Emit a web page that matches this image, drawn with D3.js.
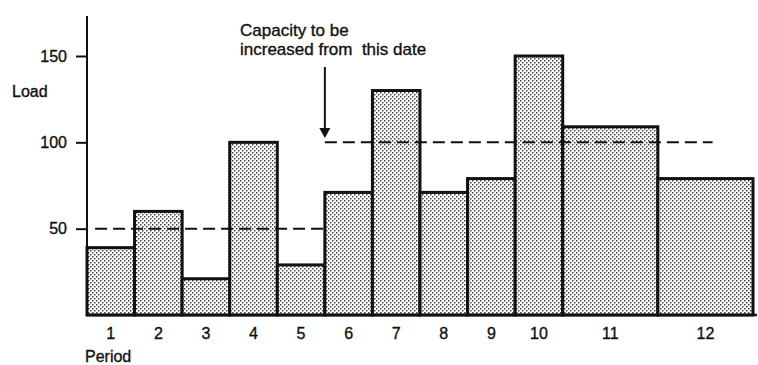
<!DOCTYPE html>
<html>
<head>
<meta charset="utf-8">
<script src="https://cdn.jsdelivr.net/npm/d3@7"></script>
<style>
  html, body { margin: 0; padding: 0; background: #fff; }
  svg { display: block; font-family: "Liberation Sans", Arial, Helvetica, sans-serif; }
  text { stroke: #111; stroke-width: 0.35px; }
</style>
</head>
<body>
<svg id="chart" width="758" height="365"></svg>
<script>
// Load per period; periods 11 and 12 cover two time units each
const periods = ["1", "2", "3", "4", "5", "6", "7", "8", "9", "10", "11", "12"];
const load = [39, 60, 21, 100, 29, 71, 130, 71, 79, 150, 109, 79];
const span = [1, 1, 1, 1, 1, 1, 1, 1, 1, 1, 2, 2];
const yTicks = [50, 100, 150];

// Capacity levels (in time units along the period axis)
const capLevel = [50, 100];
const capFrom = [0.17, 5];
const capTo = [5, 13.15];
const capChangeAt = 5;

const svg = d3.select("#chart");
const ink = "#111";

const totalUnits = d3.sum(span);
const x = d3.scaleLinear().domain([0, totalUnits]).range([87, 753]);
const y = d3.scaleLinear().domain([0, 150]).range([315, 56]);

// cumulative start of each period
const starts = [];
span.reduce((acc, s, i) => { starts[i] = acc; return acc + s; }, 0);

// stipple fill for the bars
const defs = svg.append("defs");
const pat = defs.append("pattern")
  .attr("id", "stipple")
  .attr("width", 4).attr("height", 4)
  .attr("patternUnits", "userSpaceOnUse");
pat.append("rect").attr("width", 4).attr("height", 4).attr("fill", "#fff");
pat.append("rect").attr("x", 0).attr("y", 0).attr("width", 1.5).attr("height", 1.5).attr("fill", "#444");
pat.append("rect").attr("x", 2).attr("y", 2).attr("width", 1.5).attr("height", 1.5).attr("fill", "#444");

// bars
svg.append("g")
  .selectAll("rect")
  .data(load)
  .join("rect")
  .attr("x", (d, i) => x(starts[i]))
  .attr("width", (d, i) => x(starts[i] + span[i]) - x(starts[i]))
  .attr("y", d => y(d))
  .attr("height", d => y(0) - y(d))
  .attr("fill", "url(#stipple)")
  .attr("stroke", ink)
  .attr("stroke-width", 3);

// capacity lines
svg.append("g")
  .selectAll("line")
  .data(capLevel)
  .join("line")
  .attr("x1", (d, i) => x(capFrom[i]))
  .attr("x2", (d, i) => x(capTo[i]))
  .attr("y1", d => y(d))
  .attr("y2", d => y(d))
  .attr("stroke", ink)
  .attr("stroke-width", 2)
  .attr("stroke-dasharray", "12,6");

// y axis
const yAxis = d3.axisLeft(y)
  .tickValues(yTicks)
  .tickSize(11)
  .tickPadding(9);
const gy = svg.append("g")
  .attr("transform", `translate(${x(0)},0)`)
  .call(yAxis);
gy.select(".domain").remove();
gy.selectAll(".tick line").attr("stroke", ink).attr("stroke-width", 2);
gy.selectAll(".tick text")
  .attr("fill", ink)
  .style("font-size", "16px")
  .style("font-family", "'Liberation Sans', Arial, sans-serif");

svg.append("line")
  .attr("x1", x(0)).attr("x2", x(0))
  .attr("y1", y(0) + 1).attr("y2", 16)
  .attr("stroke", ink).attr("stroke-width", 2);

// x axis baseline
svg.append("line")
  .attr("x1", x(0) - 1).attr("x2", 757)
  .attr("y1", y(0)).attr("y2", y(0))
  .attr("stroke", ink).attr("stroke-width", 2.5);

// period labels
svg.append("g")
  .selectAll("text")
  .data(periods)
  .join("text")
  .attr("x", (d, i) => x(starts[i] + span[i] / 2))
  .attr("y", 339)
  .attr("text-anchor", "middle")
  .attr("fill", ink)
  .style("font-size", "16px")
  .text(d => d);

svg.append("text")
  .attr("x", 85).attr("y", 362)
  .attr("fill", ink)
  .style("font-size", "16px")
  .text("Period");

svg.append("text")
  .attr("x", 12).attr("y", 97)
  .attr("fill", ink)
  .style("font-size", "16px")
  .text("Load");

// annotation with arrow
const ax = x(capChangeAt);
svg.append("line")
  .attr("x1", ax).attr("x2", ax)
  .attr("y1", 67).attr("y2", 129)
  .attr("stroke", ink).attr("stroke-width", 2);
svg.append("path")
  .attr("d", `M${ax - 5.5},128 L${ax + 5.5},128 L${ax},138 Z`)
  .attr("fill", ink);

const note = svg.append("text")
  .attr("fill", ink)
  .style("font-size", "17px");
note.append("tspan").attr("x", 240).attr("y", 36).text("Capacity to be");
note.append("tspan").attr("x", 240).attr("y", 55).attr("xml:space", "preserve").text("increased from  this date");
</script>
</body>
</html>
